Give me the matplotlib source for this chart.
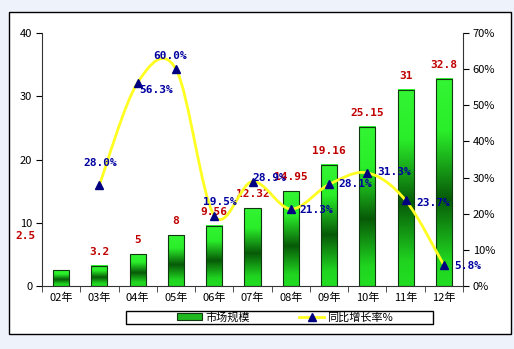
import numpy as np
import matplotlib
matplotlib.use('Agg')
import matplotlib.pyplot as plt
from matplotlib.path import Path
from matplotlib.patches import PathPatch, Rectangle, Patch
from matplotlib.lines import Line2D
from matplotlib.colors import LinearSegmentedColormap
from matplotlib.ticker import FuncFormatter

plt.rcParams['font.family'] = ['Noto Sans CJK SC', 'DejaVu Sans']

# data
years = ['02年', '03年', '04年', '05年', '06年', '07年', '08年', '09年', '10年', '11年', '12年']
market = [2.5, 3.2, 5, 8, 9.56, 12.32, 14.95, 19.16, 25.15, 31, 32.8]
market_labels = ['2.5', '3.2', '5', '8', '9.56', '12.32', '14.95', '19.16', '25.15', '31', '32.8']
growth = [28.0, 56.3, 60.0, 19.5, 28.9, 21.3, 28.1, 31.3, 23.7, 5.8]   # 03..12
growth_labels = ['28.0%', '56.3%', '60.0%', '19.5%', '28.9%', '21.3%', '28.1%', '31.3%', '23.7%', '5.8%']

# label offsets in pixels (style only)
mk_off = [(-36, 34)] + [(0, 14)] * 10
gr_off = [(1, 22), (18, -7), (-6, 13), (6, 14), (17, 4), (25, -1), (26, 0), (27, 1), (28, -3), (24, -1)]

W, H = 514, 349
fig = plt.figure(figsize=(W / 100, H / 100), dpi=100, facecolor='#EEF2FA')
fig.patches.append(Rectangle((9 / W, 1 - 334 / H), 502 / W, 322 / H, transform=fig.transFigure,
                             facecolor='white', edgecolor='black', lw=1, zorder=-1))

ax = fig.add_axes([42 / W, 1 - 286 / H, 421 / W, 253 / H])
ax.set_facecolor('none')
x = np.arange(len(years))

# vertical bar shading: bright - dark - bright
cmap = LinearSegmentedColormap.from_list('g', [(0, '#22DD22'), (0.12, '#20D420'), (0.42, '#075A07'),
                                               (0.75, '#2AEE2A'), (1, '#33F533')])
grad = np.linspace(0, 1, 100).reshape(-1, 1)
bars = ax.bar(x, market, width=0.42, facecolor='none', edgecolor='#103810', lw=0.8, zorder=3)
for b in bars:
    ax.imshow(grad, extent=[b.get_x(), b.get_x() + b.get_width(), 0, b.get_height()],
              aspect='auto', cmap=cmap, origin='lower', zorder=2, interpolation='bilinear')

for xi, v, lab, off in zip(x, market, market_labels, mk_off):
    ax.annotate(lab, (xi, v), xytext=off, textcoords='offset pixels', ha='center', va='center',
                color='#C00000', fontweight='bold', family='DejaVu Sans Mono', fontsize=8, zorder=6)

ax.set_xlim(-0.5, 10.5)
ax.set_ylim(0, 40)
ax.set_yticks(range(0, 41, 10))
ax.set_xticks(x, years)
ax.set_xticks(np.arange(-0.5, 11, 1), minor=True)
ax.tick_params(axis='x', which='major', length=0, labelsize=8, pad=5)
ax.tick_params(axis='x', which='minor', length=4, direction='out', color='#333333')
ax.tick_params(axis='y', length=4, direction='out', labelsize=8, pad=3)
for s in ['top', 'right']:
    ax.spines[s].set_visible(False)
ax.spines['left'].set_color('#333333')
ax.spines['bottom'].set_color('#333333')

ax2 = ax.twinx()
ax2.set_ylim(0, 70)
ax2.set_yticks(range(0, 71, 10))
ax2.yaxis.set_major_formatter(FuncFormatter(lambda v, p: '%d%%' % v))
ax2.tick_params(axis='y', length=4, direction='out', labelsize=8, pad=3)
for s in ['top', 'left', 'bottom']:
    ax2.spines[s].set_visible(False)
ax2.spines['right'].set_color('#333333')

# smoothed growth line (cubic bezier through the points)
gx = x[1:]
pts = np.column_stack([gx, growth]).astype(float)
n = len(pts)
verts = [pts[0]]
codes = [Path.MOVETO]
for i in range(n - 1):
    p0 = pts[i - 1] if i > 0 else pts[i]
    p1, p2 = pts[i], pts[i + 1]
    p3 = pts[i + 2] if i + 2 < n else pts[i + 1]
    verts += [p1 + (p2 - p0) / 6, p2 - (p3 - p1) / 6, p2]
    codes += [Path.CURVE4] * 3
ax2.add_patch(PathPatch(Path(verts, codes), facecolor='none', edgecolor='#FFFF22', lw=2, zorder=4))
ax2.plot(gx, growth, ls='none', marker='^', color='#000080', ms=6, zorder=5)

for xi, v, lab, off in zip(gx, growth, growth_labels, gr_off):
    ax2.annotate(lab, (xi, v), xytext=off, textcoords='offset pixels', ha='center', va='center',
                 color='#0000A0', fontweight='bold', family='DejaVu Sans Mono', fontsize=8, zorder=6)

# legend
fig.patches.append(Rectangle((126 / W, 1 - 324 / H), 307 / W, 13 / H, transform=fig.transFigure,
                             facecolor='white', edgecolor='black', lw=1, zorder=-0.5))
handles = [Patch(facecolor='#1FB81F', edgecolor='#103810', lw=0.8),
           Line2D([], [], color='#FFFF22', lw=2, marker='^', mfc='#000080', mec='#000080', ms=6)]
fig.legend(handles, ['市场规模', '同比增长率%'], loc='center', bbox_to_anchor=(285 / W, 1 - 317.5 / H),
           ncol=2, frameon=False, fontsize=8, handlelength=2.2, handleheight=0.6,
           handletextpad=0.3, columnspacing=4.5, borderpad=0)

fig.savefig('out.png', dpi=100, facecolor=fig.get_facecolor())
